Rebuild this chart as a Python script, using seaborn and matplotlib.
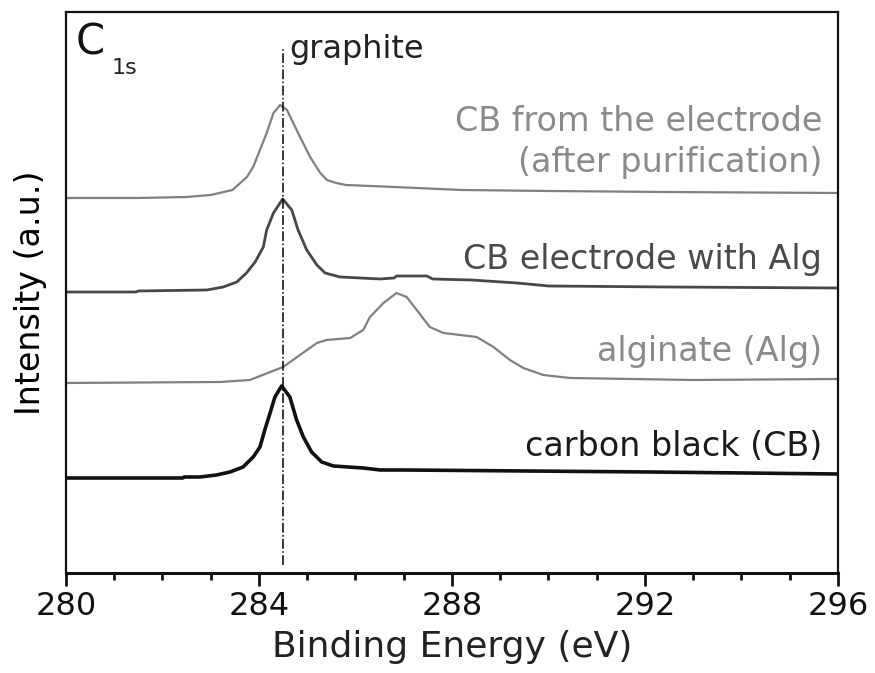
import matplotlib
matplotlib.use('Agg')
import matplotlib.pyplot as plt
from matplotlib.ticker import MultipleLocator
import seaborn as sns
import pandas as pd

# C1s XPS spectra (intensity in a.u., offset stacked as in the figure)
be_cb_pur = [280.0, 281.5, 282.5, 283.0, 283.45, 283.75, 283.88, 284.02, 284.16, 284.3, 284.44,
             284.58, 284.71, 284.85, 285.06, 285.27, 285.41, 285.6, 285.8, 286.8, 288.2, 290.0,
             292.4, 296.0]
int_cb_pur = [375, 375, 376, 378, 383, 396, 406, 423, 440, 460, 468,
              463, 450, 436, 416, 400, 393, 390, 388, 386, 383, 382,
              381, 380]

be_cb_alg = [280.0, 281.45, 281.5, 282.92, 283.26, 283.54, 283.74, 283.92, 284.09, 284.16, 284.3,
             284.49, 284.68, 284.81, 284.99, 285.2, 285.37, 285.68, 286.51, 286.8, 286.85, 287.48,
             287.6, 288.4, 289.35, 290.0, 292.46, 296.0]
int_cb_alg = [281, 281, 282, 283, 286, 291, 300, 311, 326, 343, 360,
              374, 363, 343, 323, 308, 300, 296, 294, 295, 297, 297,
              294, 293, 290, 287, 286, 285]

be_alg = [280.0, 283.2, 283.81, 284.5, 284.85, 285.2, 285.4, 285.89, 286.16, 286.3, 286.58,
          286.85, 287.06, 287.27, 287.54, 287.82, 288.51, 288.86, 289.2, 289.48, 289.89,
          290.45, 293.0, 296.0]
int_alg = [190, 191, 193, 206, 218, 230, 233, 235, 243, 256, 270,
           280, 276, 263, 246, 240, 236, 226, 213, 205, 198,
           195, 193, 194]

be_cb = [280.0, 282.42, 282.45, 282.78, 283.12, 283.4, 283.67, 283.88, 284.02, 284.12, 284.23,
         284.33, 284.47, 284.64, 284.78, 284.92, 285.09, 285.3, 285.54, 286.16, 286.51, 286.98,
         292.1, 296.0]
int_cb = [95, 95, 96, 96, 98, 101, 106, 116, 126, 143, 160,
          176, 187, 176, 153, 136, 121, 111, 107, 105, 103, 103,
          101, 99]

labels = ['CB from the electrode\n(after purification)', 'CB electrode with Alg',
          'alginate (Alg)', 'carbon black (CB)']
label_y = [401, 304, 212, 117]
graphite_be = 284.5

sns.set_style('white')

fig = plt.figure(figsize=(8.75, 6.73), dpi=100)
ax = fig.add_axes([0.0754, 0.1486, 0.8823, 0.8336])

series = [
    (be_cb_pur, int_cb_pur, '#808080', 1.6),
    (be_cb_alg, int_cb_alg, '#474747', 2.0),
    (be_alg, int_alg, '#808080', 1.6),
    (be_cb, int_cb, '#111111', 2.6),
]
for x, y, c, lw in series:
    df = pd.DataFrame({'be': x, 'intensity': y})
    sns.lineplot(data=df, x='be', y='intensity', ax=ax, color=c, linewidth=lw, sort=False)

# graphite reference line
ax.plot([graphite_be, graphite_be], [8, 525], color='black', linestyle='-.', linewidth=1.1)
ax.text(graphite_be + 0.12, 515, 'graphite', fontsize=23, color='#222222', va='baseline')

# C1s label
ax.text(280.2, 518, 'C', fontsize=30, color='#111111', va='baseline')
ax.text(280.95, 499, '1s', fontsize=16, color='#222222', va='baseline')

# curve labels
text_colors = ['#8a8a8a', '#4a4a4a', '#8a8a8a', '#1a1a1a']
for lab, ly, tc in zip(labels, label_y, text_colors):
    ax.text(295.67, ly, lab, fontsize=24, color=tc, ha='right', va='baseline',
            linespacing=1.3)

ax.set_xlim(280, 296)
ax.set_ylim(0, 561)
ax.set_xticks([280, 284, 288, 292, 296])
ax.xaxis.set_minor_locator(MultipleLocator(1))
ax.set_yticks([])
ax.tick_params(axis='x', which='major', direction='out', length=9, width=2,
               labelsize=23, bottom=True, top=False, pad=4, colors='#111111')
ax.tick_params(axis='x', which='minor', direction='out', length=5, width=2,
               bottom=True, top=False, colors='#111111')

for side in ['left', 'right', 'top', 'bottom']:
    ax.spines[side].set_color('#111111')
    ax.spines[side].set_linewidth(1.6)
ax.spines['bottom'].set_linewidth(2.2)

ax.set_xlabel('Binding Energy (eV)', fontsize=26, color='#222222', labelpad=6)
ax.set_ylabel('Intensity (a.u.)', fontsize=24, color='black', labelpad=14)

fig.savefig('out.png', dpi=100, facecolor='white')
